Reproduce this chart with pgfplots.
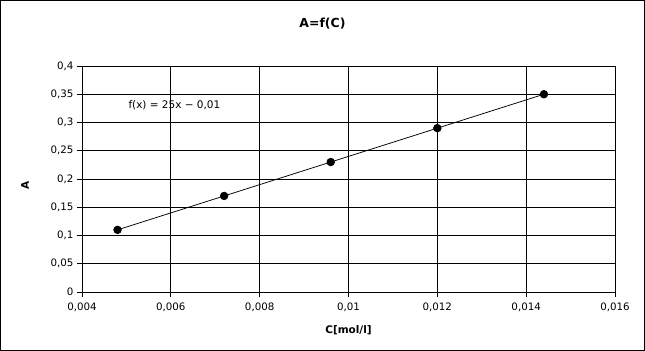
\documentclass[border=0pt]{standalone}
\usepackage{pgfplots}
\pgfplotsset{compat=1.18}
\usepackage{fontspec}
\setmainfont{DejaVu Sans}
\begin{document}
\begin{tikzpicture}
\useasboundingbox (0,0) rectangle (645bp,351bp);
\draw[line width=1bp] (0.5bp,0.5bp) rectangle (644.5bp,350.5bp);
\begin{axis}[
  at={(82bp,59bp)}, anchor=south west,
  scale only axis, width=533bp, height=226bp,
  xmin=0.004, xmax=0.016, ymin=0, ymax=0.4,
  xtick={0.004,0.006,...,0.016},
  ytick={0,0.05,...,0.4},
  scaled x ticks=false, scaled y ticks=false,
  xticklabel style={yshift=-2bp,/pgf/number format/fixed,/pgf/number format/precision=3,/pgf/number format/use comma},
  yticklabel style={/pgf/number format/fixed,/pgf/number format/precision=2,/pgf/number format/use comma},
  /pgf/number format/assume math mode=true,
  ticklabel style={font=\fontsize{10.3}{12}\selectfont},
  grid=major, grid style={black, line width=1bp},
  axis line style={black, line width=1bp},
  tick style={black, line width=1bp},
  tick align=outside, major tick length=5bp,
  xtick pos=bottom, ytick pos=left,
  clip=false,
]
\addplot[black, line width=0.75bp, mark=*, mark size=3.8bp, mark options={fill=black}] coordinates {
(0.0048,0.11) (0.0072,0.17) (0.0096,0.23) (0.012,0.29) (0.0144,0.35)};
\end{axis}
\node[anchor=west, font=\fontsize{10.5}{12}\selectfont] at (125bp,246bp) {f(x) = 25x − 0,01};
\node[font=\bfseries\fontsize{12.5}{14}\selectfont] at (322.5bp,327bp) {A=f(C)};
\node[font=\bfseries\fontsize{10.5}{12}\selectfont] at (348.5bp,21bp) {C[mol/l]};
\node[font=\bfseries\fontsize{10.5}{12}\selectfont, rotate=90] at (25bp,166bp) {A};
\end{tikzpicture}
\end{document}
